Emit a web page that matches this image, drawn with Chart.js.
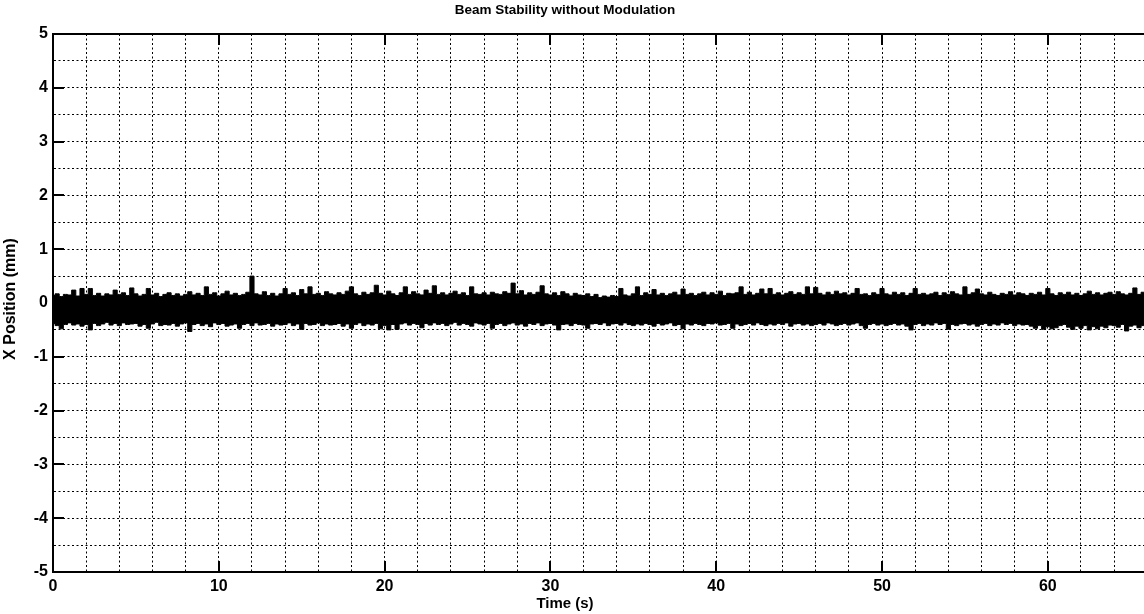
<!DOCTYPE html>
<html>
<head>
<meta charset="utf-8">
<script src="https://cdn.jsdelivr.net/npm/chart.js@4.4.1/dist/chart.umd.min.js"></script>
<style>
  html, body { margin: 0; padding: 0; background: #fff; overflow: hidden; }
  #wrap { width: 1144px; height: 614px; position: relative; }
</style>
</head>
<body>
<div id="wrap"><canvas id="c" width="1144" height="614"></canvas></div>
<script>
// Labels
const TITLE = 'Beam Stability without Modulation';
const X_LABEL = 'Time (s)';
const Y_LABEL = 'X Position (mm)';

// Axis ranges and tick spacing
const X_MAX = 65.8;
const Y_MIN = -5, Y_MAX = 5;
const X_GRID_STEP = 2, X_LABEL_STEP = 10;
const Y_GRID_STEP = 0.5, Y_LABEL_STEP = 1;

// Beam position envelope (mm): max and min of the signal in each 0.25 s window
const SAMPLE_STEP = 0.25;
const upperEnvelope = [
  0.14,0.17,0.12,0.16, 0.15,0.24,0.13,0.27, 0.16,0.27,0.14,0.18, 0.13,0.17,0.15,0.24,
  0.16,0.19,0.14,0.28, 0.17,0.13,0.16,0.27, 0.15,0.18,0.12,0.16, 0.19,0.14,0.17,0.13,
  0.16,0.21,0.15,0.18, 0.14,0.30,0.16,0.19, 0.13,0.17,0.22,0.15, 0.18,0.14,0.16,0.20,
  0.50,0.17,0.15,0.21, 0.14,0.18,0.13,0.17, 0.27,0.16,0.19,0.14, 0.25,0.17,0.30,0.16,
  0.18,0.14,0.21,0.17, 0.15,0.19,0.16,0.22, 0.30,0.17,0.14,0.20, 0.16,0.19,0.33,0.18,
  0.15,0.22,0.17,0.14, 0.19,0.30,0.16,0.21, 0.17,0.15,0.24,0.18, 0.32,0.16,0.19,0.15,
  0.18,0.22,0.16,0.19, 0.14,0.30,0.17,0.16, 0.19,0.15,0.20,0.17, 0.16,0.21,0.18,0.37,
  0.17,0.23,0.15,0.19, 0.16,0.20,0.32,0.17, 0.15,0.19,0.14,0.21, 0.17,0.13,0.18,0.15,
  0.14,0.17,0.12,0.16, 0.10,0.13,0.11,0.14, 0.12,0.27,0.15,0.13, 0.17,0.30,0.14,0.19,
  0.16,0.25,0.15,0.18, 0.14,0.17,0.20,0.15, 0.26,0.16,0.18,0.14, 0.17,0.20,0.15,0.19,
  0.16,0.22,0.14,0.18, 0.17,0.19,0.30,0.16, 0.20,0.15,0.18,0.26, 0.17,0.27,0.16,0.19,
  0.15,0.18,0.21,0.16, 0.19,0.16,0.30,0.17, 0.29,0.18,0.15,0.20, 0.16,0.22,0.17,0.19,
  0.15,0.18,0.27,0.16, 0.17,0.14,0.19,0.16, 0.27,0.17,0.15,0.20, 0.16,0.19,0.14,0.18,
  0.27,0.16,0.18,0.15, 0.17,0.20,0.14,0.19, 0.16,0.21,0.17,0.15, 0.30,0.16,0.19,0.26,
  0.17,0.15,0.20,0.16, 0.14,0.18,0.16,0.21, 0.15,0.19,0.17,0.14, 0.18,0.16,0.20,0.15,
  0.27,0.17,0.14,0.19, 0.16,0.20,0.15,0.18, 0.14,0.17,0.22,0.16, 0.19,0.15,0.18,0.20,
  0.16,0.21,0.17,0.15, 0.18,0.28,0.16,0.20, 0.17
];
const lowerEnvelope = [
  -0.38,-0.42,-0.48,-0.40, -0.37,-0.41,-0.39,-0.43, -0.40,-0.50,-0.38,-0.42, -0.39,-0.36,-0.41,-0.38,
  -0.42,-0.37,-0.40,-0.39, -0.38,-0.43,-0.40,-0.47, -0.39,-0.36,-0.42,-0.40, -0.41,-0.38,-0.43,-0.39,
  -0.37,-0.53,-0.40,-0.38, -0.42,-0.39,-0.44,-0.37, -0.40,-0.38,-0.43,-0.41, -0.39,-0.47,-0.40,-0.38,
  -0.42,-0.37,-0.41,-0.40, -0.38,-0.43,-0.39,-0.41, -0.40,-0.37,-0.42,-0.39, -0.49,-0.38,-0.41,-0.40,
  -0.37,-0.42,-0.39,-0.41, -0.40,-0.38,-0.43,-0.39, -0.47,-0.40,-0.37,-0.42, -0.39,-0.41,-0.38,-0.48,
  -0.42,-0.50,-0.40,-0.49, -0.39,-0.37,-0.41,-0.38, -0.40,-0.46,-0.38,-0.41, -0.37,-0.40,-0.38,-0.42,
  -0.39,-0.36,-0.41,-0.38, -0.40,-0.43,-0.37,-0.39, -0.41,-0.38,-0.47,-0.40, -0.38,-0.42,-0.39,-0.37,
  -0.41,-0.39,-0.43,-0.38, -0.40,-0.37,-0.42,-0.39, -0.38,-0.41,-0.50,-0.40, -0.39,-0.42,-0.38,-0.40,
  -0.41,-0.47,-0.39,-0.38, -0.40,-0.37,-0.42,-0.39, -0.38,-0.41,-0.37,-0.40, -0.42,-0.39,-0.41,-0.38,
  -0.40,-0.43,-0.38,-0.41, -0.39,-0.37,-0.42,-0.40, -0.48,-0.39,-0.41,-0.38, -0.40,-0.42,-0.38,-0.39,
  -0.37,-0.41,-0.40,-0.38, -0.47,-0.39,-0.42,-0.40, -0.38,-0.41,-0.37,-0.40, -0.42,-0.39,-0.41,-0.38,
  -0.40,-0.37,-0.43,-0.39, -0.38,-0.41,-0.39,-0.42, -0.40,-0.38,-0.41,-0.37, -0.39,-0.42,-0.40,-0.38,
  -0.41,-0.39,-0.37,-0.42, -0.47,-0.40,-0.38,-0.41, -0.39,-0.42,-0.40,-0.38, -0.41,-0.39,-0.43,-0.50,
  -0.40,-0.38,-0.42,-0.39, -0.41,-0.37,-0.40,-0.38, -0.49,-0.40,-0.42,-0.39, -0.38,-0.41,-0.39,-0.43,
  -0.40,-0.38,-0.42,-0.39, -0.41,-0.37,-0.40,-0.38, -0.42,-0.39,-0.41,-0.40, -0.43,-0.47,-0.42,-0.49,
  -0.44,-0.48,-0.46,-0.42, -0.40,-0.45,-0.49,-0.43, -0.47,-0.42,-0.50,-0.44, -0.48,-0.43,-0.46,-0.41,
  -0.42,-0.45,-0.40,-0.52, -0.43,-0.41,-0.46,-0.42, -0.41
];

const FONT = '"Liberation Sans", Arial, Helvetica, sans-serif';

const toPoints = arr => arr.map((v, i) => ({ x: i * SAMPLE_STEP, y: v }));

function stepTicks(min, max, step) {
  const t = [];
  const n = Math.floor((max - min) / step + 1e-9);
  for (let i = 0; i <= n; i++) t.push({ value: +(min + i * step).toFixed(6) });
  return t;
}

// Box outline, inward tick marks and text captions
const frame = {
  id: 'frame',
  afterDraw(chart) {
    const { ctx, chartArea: a, scales: { x, y } } = chart;
    ctx.save();
    ctx.strokeStyle = '#000';
    ctx.lineWidth = 2;
    ctx.beginPath();
    ctx.moveTo(a.left, a.top); ctx.lineTo(a.right, a.top);
    ctx.moveTo(a.left, a.top - 1); ctx.lineTo(a.left, a.bottom + 1);
    ctx.moveTo(a.left, a.bottom); ctx.lineTo(a.right, a.bottom);
    ctx.stroke();

    const TL = 11;
    ctx.beginPath();
    for (let v = 0; v <= X_MAX; v += X_LABEL_STEP) {
      const px = Math.round(x.getPixelForValue(v));
      ctx.moveTo(px, a.bottom); ctx.lineTo(px, a.bottom - TL);
      ctx.moveTo(px, a.top); ctx.lineTo(px, a.top + TL);
    }
    for (let v = Y_MIN; v <= Y_MAX; v += Y_LABEL_STEP) {
      const py = Math.round(y.getPixelForValue(v));
      ctx.moveTo(a.left, py); ctx.lineTo(a.left + TL, py);
    }
    ctx.stroke();

    ctx.fillStyle = '#000';
    ctx.textAlign = 'center';
    ctx.textBaseline = 'middle';
    ctx.font = 'bold 13.5px ' + FONT;
    ctx.fillText(TITLE, 565, 10);
    ctx.font = 'bold 15px ' + FONT;
    ctx.fillText(X_LABEL, 565, 604);
    ctx.font = 'bold 16px ' + FONT;
    ctx.translate(11, 299);
    ctx.rotate(-Math.PI / 2);
    ctx.fillText(Y_LABEL, 0, 0);
    ctx.restore();
  }
};

const bandStyle = {
  borderColor: '#000',
  backgroundColor: '#000',
  borderWidth: 1,
  pointRadius: 0,
  stepped: 'middle'
};

new Chart(document.getElementById('c'), {
  type: 'line',
  data: {
    datasets: [
      Object.assign({ label: 'upper', data: toPoints(upperEnvelope), fill: '+1' }, bandStyle),
      Object.assign({ label: 'lower', data: toPoints(lowerEnvelope), fill: false }, bandStyle)
    ]
  },
  options: {
    responsive: false,
    animation: false,
    devicePixelRatio: 1,
    layout: { padding: { top: 34, right: 0, bottom: 0, left: 0 } },
    plugins: { legend: { display: false }, tooltip: { enabled: false }, title: { display: false } },
    scales: {
      x: {
        type: 'linear',
        min: 0,
        max: X_MAX,
        afterBuildTicks: s => { s.ticks = stepTicks(0, X_MAX, X_GRID_STEP); },
        afterFit: s => { s.height = 42; },
        grid: { color: '#000', lineWidth: 1, drawTicks: false },
        border: { display: true, color: '#000', width: 2, dash: [2, 2.5] },
        ticks: {
          autoSkip: false, maxRotation: 0, padding: 5, color: '#000',
          font: { family: FONT, size: 16, weight: 'bold' },
          callback: v => (Math.abs(v % X_LABEL_STEP) < 1e-9 ? String(v) : '')
        }
      },
      y: {
        type: 'linear',
        min: Y_MIN,
        max: Y_MAX,
        afterBuildTicks: s => { s.ticks = stepTicks(Y_MIN, Y_MAX, Y_GRID_STEP); },
        afterFit: s => { s.width = 53; },
        grid: { color: '#000', lineWidth: 1, drawTicks: false },
        border: { display: true, color: '#000', width: 2, dash: [2, 2.5] },
        ticks: {
          autoSkip: false, padding: 5, color: '#000',
          font: { family: FONT, size: 16, weight: 'bold' },
          callback: v => (Math.abs(v % Y_LABEL_STEP) < 1e-9 ? String(v) : '')
        }
      }
    }
  },
  plugins: [frame]
});
</script>
</body>
</html>
